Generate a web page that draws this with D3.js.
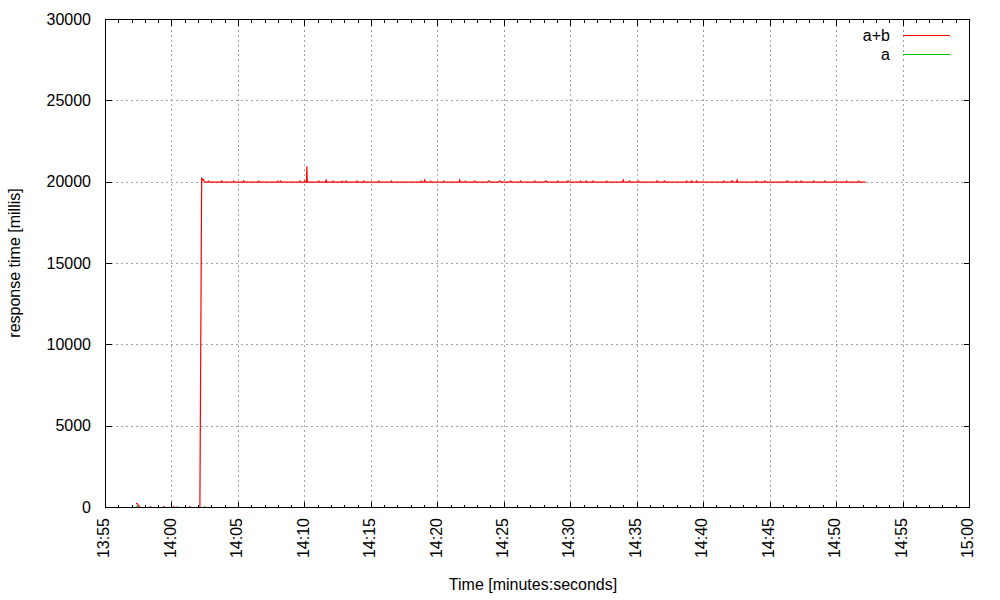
<!DOCTYPE html>
<html><head><meta charset="utf-8">
<script src="https://cdn.jsdelivr.net/npm/d3@7"></script>
<style>
html,body{margin:0;padding:0;background:#fff;}
text{font-family:"Liberation Sans",Arial,sans-serif;font-size:16px;fill:#000;}
</style></head><body>
<svg id="c" width="1000" height="600"></svg>
<script>
// ---- data ----
const xDomain = ["13:55:00", "15:00:00"];
const xTickLabels = ["13:55","14:00","14:05","14:10","14:15","14:20","14:25","14:30","14:35","14:40","14:45","14:50","14:55","15:00"];
const yTickValues = [0, 5000, 10000, 15000, 20000, 25000, 30000];
const seriesNames = ["a+b", "a"];
const seriesColors = ["#ff0000", "#00c000"];

const abSeries = [
 ["13:57:18",280],["13:57:23",230],["13:57:27",150],["13:57:32",80],["13:57:36",10],["13:57:50",0],
 ["13:58:19",0],["13:58:23",50],["13:58:27",0],["13:59:19",0],["13:59:23",50],["13:59:27",0],
 ["14:00:04",0],["14:00:08",50],["14:00:12",0],["14:01:16",0],["14:01:20",50],["14:01:24",0],
 ["14:02:06",0],["14:02:10",10100],["14:02:14",20230],["14:02:17",20200],["14:02:20",20130],["14:02:23",20150],["14:02:27",20000],
 ["14:02:43",20000],["14:02:46",20060],["14:02:49",20000],
 ["14:03:41",20000],["14:03:44",20060],["14:03:47",20000],
 ["14:04:36",20000],["14:04:39",20060],["14:04:42",20000],
 ["14:05:21",20000],["14:05:24",20080],["14:05:27",20000],
 ["14:06:29",20000],["14:06:32",20060],["14:06:35",20000],
 ["14:07:55",20000],["14:07:58",20060],["14:08:01",20000],
 ["14:08:07",20000],["14:08:10",20060],["14:08:13",20000],
 ["14:09:34",20000],["14:09:37",20060],["14:09:40",20000],
 ["14:09:57",20000],["14:10:00",20060],["14:10:03",20000],
 ["14:10:07",20000],["14:10:09",20980],["14:10:11",20000],
 ["14:11:00",20000],["14:11:03",20060],["14:11:06",20000],
 ["14:11:33",20000],["14:11:36",20120],["14:11:39",20000],
 ["14:12:05",20000],["14:12:08",20060],["14:12:11",20000],
 ["14:12:45",20000],["14:12:48",20060],["14:12:51",20000],
 ["14:13:04",20000],["14:13:07",20060],["14:13:10",20000],
 ["14:13:53",20000],["14:13:56",20060],["14:13:59",20000],
 ["14:14:23",20000],["14:14:26",20060],["14:14:29",20000],
 ["14:15:31",20000],["14:15:34",20060],["14:15:37",20000],
 ["14:16:28",20000],["14:16:31",20060],["14:16:34",20000],
 ["14:18:42",20000],["14:18:45",20060],["14:18:48",20000],
 ["14:18:58",20000],["14:19:01",20120],["14:19:04",20000],
 ["14:19:24",20000],["14:19:27",20060],["14:19:30",20000],
 ["14:20:24",20000],["14:20:27",20060],["14:20:30",20000],
 ["14:21:36",20000],["14:21:39",20120],["14:21:42",20000],
 ["14:22:02",20000],["14:22:05",20060],["14:22:08",20000],
 ["14:22:44",20000],["14:22:47",20060],["14:22:50",20000],
 ["14:23:46",20000],["14:23:49",20070],["14:23:53",20070],["14:23:56",20000],
 ["14:24:34",20000],["14:24:37",20070],["14:24:41",20070],["14:24:44",20000],
 ["14:25:25",20000],["14:25:28",20060],["14:25:31",20000],
 ["14:26:10",20000],["14:26:13",20060],["14:26:16",20000],
 ["14:27:15",20000],["14:27:18",20060],["14:27:21",20000],
 ["14:28:02",20000],["14:28:05",20070],["14:28:09",20070],["14:28:12",20000],
 ["14:28:59",20000],["14:29:02",20060],["14:29:05",20000],
 ["14:29:43",20000],["14:29:46",20060],["14:29:50",20060],["14:29:53",20000],
 ["14:30:41",20000],["14:30:44",20060],["14:30:47",20000],
 ["14:31:07",20000],["14:31:10",20060],["14:31:13",20000],
 ["14:31:38",20000],["14:31:41",20060],["14:31:44",20000],
 ["14:32:39",20000],["14:32:42",20060],["14:32:45",20000],
 ["14:33:54",20000],["14:33:57",20120],["14:34:00",20000],
 ["14:34:22",20000],["14:34:25",20060],["14:34:28",20000],
 ["14:35:04",20000],["14:35:07",20060],["14:35:10",20000],
 ["14:36:26",20000],["14:36:29",20070],["14:36:33",20070],["14:36:36",20000],
 ["14:37:00",20000],["14:37:03",20060],["14:37:06",20000],
 ["14:38:40",20000],["14:38:43",20060],["14:38:46",20000],
 ["14:39:02",20000],["14:39:05",20060],["14:39:08",20000],
 ["14:39:25",20000],["14:39:28",20060],["14:39:31",20000],
 ["14:41:28",20000],["14:41:31",20060],["14:41:34",20000],
 ["14:42:03",20000],["14:42:06",20070],["14:42:10",20070],["14:42:13",20000],
 ["14:42:28",20000],["14:42:31",20120],["14:42:34",20000],
 ["14:43:55",20000],["14:43:58",20060],["14:44:01",20000],
 ["14:44:33",20000],["14:44:36",20060],["14:44:39",20000],
 ["14:46:13",20000],["14:46:16",20070],["14:46:20",20070],["14:46:23",20000],
 ["14:46:55",20000],["14:46:58",20060],["14:47:01",20000],
 ["14:47:17",20000],["14:47:20",20060],["14:47:23",20000],
 ["14:48:14",20000],["14:48:17",20060],["14:48:20",20000],
 ["14:49:04",20000],["14:49:07",20060],["14:49:10",20000],
 ["14:49:48",20000],["14:49:51",20060],["14:49:54",20000],
 ["14:50:42",20000],["14:50:45",20060],["14:50:48",20000],
 ["14:51:37",20000],["14:51:40",20060],["14:51:43",20000],
 ["14:52:11",20000]
];

const aSeries = [
 ["13:57:18",0],["13:57:21",60],["13:57:24",90],["13:57:28",0],
 ["14:00:20",0],["14:00:24",40],["14:00:28",0],
 ["14:02:24",0],["14:02:28",40],["14:02:32",0],
 ["14:52:11",0]
];

// ---- layout ----
const L = 105, R = 969, T = 19, B = 507;
const parse = d3.timeParse("%H:%M:%S");
const x = d3.scaleTime().domain(xDomain.map(parse)).range([L, R]);
const y = d3.scaleLinear().domain([0, 30000]).range([B, T]);

const svg = d3.select("#c");
const g = svg.append("g").attr("transform", "translate(0.5,0.5)");

const majorX = d3.timeMinute.every(5).range(x.domain()[0], d3.timeSecond.offset(x.domain()[1], 1));
const minorX = d3.timeMinute.every(1).range(x.domain()[0], d3.timeSecond.offset(x.domain()[1], 1));
const fmt = d3.timeFormat("%H:%M");

// grid
const grid = g.append("g").attr("stroke", "#a0a0a0").attr("stroke-width", 1).attr("stroke-dasharray", "2,3").attr("shape-rendering", "crispEdges");
majorX.slice(1, -1).forEach(d => {
  grid.append("line").attr("x1", Math.round(x(d))).attr("x2", Math.round(x(d))).attr("y1", T).attr("y2", B);
});
yTickValues.slice(1, -1).forEach(v => {
  grid.append("line").attr("x1", L).attr("x2", R).attr("y1", Math.round(y(v))).attr("y2", Math.round(y(v)));
});

// data lines
const line = d3.line().x(d => x(parse(d[0]))).y(d => y(d[1]));
const series = [abSeries, aSeries];
series.forEach((s, i) => {
  g.append("path").datum(s).attr("d", line).attr("fill", "none")
   .attr("stroke", seriesColors[i]).attr("stroke-width", 1.2).attr("stroke-linejoin", "miter");
});

// border & ticks (front)
const ax = g.append("g").attr("stroke", "#000").attr("stroke-width", 1).attr("shape-rendering", "crispEdges");
ax.append("rect").attr("x", L).attr("y", T).attr("width", R - L).attr("height", B - T).attr("fill", "none");
minorX.forEach(d => {
  const isMajor = d.getMinutes() % 5 === 0;
  const len = isMajor ? 6 : 3;
  const xx = Math.round(x(d));
  ax.append("line").attr("x1", xx).attr("x2", xx).attr("y1", B).attr("y2", B - len);
  ax.append("line").attr("x1", xx).attr("x2", xx).attr("y1", T).attr("y2", T + len);
});
yTickValues.forEach(v => {
  const yy = Math.round(y(v));
  ax.append("line").attr("x1", L).attr("x2", L + 6).attr("y1", yy).attr("y2", yy);
  ax.append("line").attr("x1", R).attr("x2", R - 6).attr("y1", yy).attr("y2", yy);
});

// tick labels
const labels = svg.append("g");
yTickValues.forEach(v => {
  labels.append("text").attr("x", 91).attr("y", y(v)).attr("dy", "0.36em")
    .attr("text-anchor", "end").text(String(v));
});
majorX.forEach((d, i) => {
  const xx = x(d) - 1.5;
  labels.append("text").attr("transform", `translate(${xx},518) rotate(-90)`)
    .attr("dy", "0.36em").attr("text-anchor", "end").text(xTickLabels[i] || fmt(d));
});

// axis titles
svg.append("text").attr("x", 533).attr("y", 590).attr("text-anchor", "middle").text("Time [minutes:seconds]");
svg.append("text").attr("transform", "translate(14,263) rotate(-90)").attr("dy", "0.36em")
  .attr("text-anchor", "middle").text("response time [millis]");

// legend
seriesNames.forEach((n, i) => {
  const ly = 35 + i * 19;
  svg.append("text").attr("x", 890).attr("y", ly).attr("dy", "0.36em").attr("text-anchor", "end").text(n);
  svg.append("line").attr("x1", 903).attr("x2", 950).attr("y1", ly + 0.5).attr("y2", ly + 0.5)
    .attr("stroke", seriesColors[i]).attr("stroke-width", 1.2);
});
</script>
</body></html>
